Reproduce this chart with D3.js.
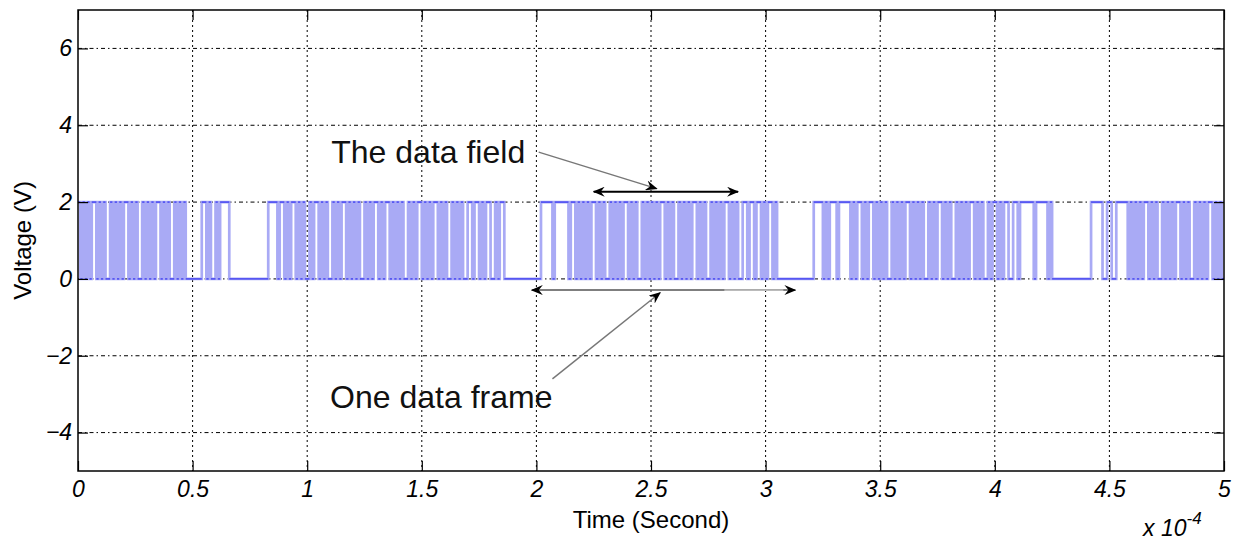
<!DOCTYPE html>
<html>
<head>
<meta charset="utf-8">
<script src="https://cdn.jsdelivr.net/npm/d3@7"></script>
<style>
  body { margin: 0; background: #fff; }
  text { font-family: Arial, "Liberation Sans", sans-serif; }
</style>
</head>
<body>
<div id="chart"></div>
<script>
// signal: one char per microsecond, one row per 0.5e-4 s grid column
const bitRows = [
    "10101011010100101010110101001010101101010010101000",
    "00001101001011110000000000000000011110110101101010",
    "01011010100101011010101001010110101101010100101011",
    "01010110101001010100110110101100101100000000000000",
    "00111110111111011010101011010100101010110101001010",
    "10101101010010101011010100101010110101001101101101",
    "01101000000000000000011110101110111110101101011010",
    "10100101010110101010010101101010010101011010100101",
    "10101100110111111011111010000000000000000011111001",
    "10011111010101011010100101010110101001010101101010"
];
const bitTime = 0.01;      // x 1e-4 s
const highLevel = 2;       // V
const lowLevel = 0;

const xTicks = [0, 0.5, 1, 1.5, 2, 2.5, 3, 3.5, 4, 4.5, 5];
const yTicks = [-4, -2, 0, 2, 4, 6];

// annotations in data units
const fieldArrow = { t0: 2.25, t1: 2.88, v: 2.27 };
const frameArrow = { t0: 1.98, t1: 3.13, v: -0.29 };
const fieldLabel = { text: "The data field", t: 1.105, v: 3.02, tipT: 2.525, tipV: 2.35, fromT: 2.01, fromV: 3.3 };
const frameLabel = { text: "One data frame", t: 1.10, v: -3.36, tipT: 2.54, tipV: -0.36, fromT: 2.07, fromV: -2.6 };

const W = 1245, H = 544;
const plot = { left: 78, right: 1224, top: 10, bottom: 471 };

const x = d3.scaleLinear().domain([0, 5]).range([plot.left, plot.right]);
const y = d3.scaleLinear().domain([-5, 7]).range([plot.bottom, plot.top]);

const svg = d3.select("#chart").append("svg")
    .attr("width", W).attr("height", H);

const defs = svg.append("defs");
defs.append("marker")
    .attr("id", "head")
    .attr("viewBox", "0 0 12 10")
    .attr("refX", 11).attr("refY", 5)
    .attr("markerWidth", 12).attr("markerHeight", 10)
    .attr("markerUnits", "userSpaceOnUse")
    .attr("orient", "auto-start-reverse")
    .append("path")
    .attr("d", "M0,0 L12,5 L0,10 L4,5 Z")
    .attr("fill", "#000");

// grid
svg.append("g").selectAll("line").data(xTicks.slice(1, -1)).join("line")
    .attr("x1", d => x(d)).attr("x2", d => x(d))
    .attr("y1", plot.top).attr("y2", plot.bottom)
    .attr("stroke", "#000").attr("stroke-width", 1)
    .attr("stroke-dasharray", "2,3");
svg.append("g").selectAll("line").data(yTicks).join("line")
    .attr("x1", plot.left).attr("x2", plot.right)
    .attr("y1", d => y(d)).attr("y2", d => y(d))
    .attr("stroke", "#000").attr("stroke-width", 1)
    .attr("stroke-dasharray", "4,3,1.5,3");

// signal
const bits = bitRows.join("").split("");
const points = bits.map((b, i) => [i * bitTime, b === "1" ? highLevel : lowLevel]);
points.push([5, points[points.length - 1][1]]);

// runs of equal level, for the darker level traces
const runs = [];
bits.forEach((b, i) => {
    const v = b === "1" ? highLevel : lowLevel;
    const last = runs[runs.length - 1];
    if (last && last.v === v) last.t1 = (i + 1) * bitTime;
    else runs.push({ v: v, t0: i * bitTime, t1: (i + 1) * bitTime });
});

const line = d3.line()
    .x(d => x(d[0]))
    .y(d => y(d[1]))
    .curve(d3.curveStepAfter);

// wide pale stroke gives the washed-out look of the dense bursts
svg.append("path")
    .datum(points)
    .attr("d", line)
    .attr("fill", "none")
    .attr("stroke", "#a9aaf5")
    .attr("stroke-width", 2.7);
svg.append("g").selectAll("line").data(runs).join("line")
    .attr("x1", d => x(d.t0)).attr("x2", d => x(d.t1))
    .attr("y1", d => y(d.v)).attr("y2", d => y(d.v))
    .attr("stroke", "#2626f0")
    .attr("stroke-width", 1.3)
    .attr("stroke-opacity", 0.85);

// axes box with inward ticks on all sides
const tickLen = 10;
const axisStyle = g => {
    g.select(".domain").remove();
    g.selectAll(".tick line").attr("stroke", "#000").attr("stroke-width", 1.2);
};
svg.append("g").attr("transform", `translate(0,${plot.bottom})`)
    .call(d3.axisBottom(x).tickValues(xTicks).tickSize(-tickLen).tickPadding(10)
        .tickFormat(d => d3.format("~g")(d)))
    .call(axisStyle)
    .selectAll("text")
    .attr("font-size", 23).attr("font-style", "italic").attr("fill", "#000")
    .attr("font-family", "Arial, 'Liberation Sans', sans-serif");
svg.append("g").attr("transform", `translate(0,${plot.top})`)
    .call(d3.axisTop(x).tickValues(xTicks).tickSize(-tickLen).tickFormat(""))
    .call(axisStyle);
svg.append("g").attr("transform", `translate(${plot.left},0)`)
    .call(d3.axisLeft(y).tickValues(yTicks).tickSize(-tickLen).tickPadding(6))
    .call(axisStyle)
    .selectAll("text")
    .attr("font-size", 23).attr("font-style", "italic").attr("fill", "#000")
    .attr("font-family", "Arial, 'Liberation Sans', sans-serif");
svg.append("g").attr("transform", `translate(${plot.right},0)`)
    .call(d3.axisRight(y).tickValues(yTicks).tickSize(-tickLen).tickFormat(""))
    .call(axisStyle);

svg.append("rect")
    .attr("x", plot.left).attr("y", plot.top)
    .attr("width", plot.right - plot.left).attr("height", plot.bottom - plot.top)
    .attr("fill", "none").attr("stroke", "#000").attr("stroke-width", 1.5);

// axis labels
svg.append("text")
    .attr("transform", `translate(31,${(plot.top + plot.bottom) / 2}) rotate(-90)`)
    .attr("text-anchor", "middle")
    .attr("font-size", 24)
    .text("Voltage (V)");
svg.append("text")
    .attr("x", x(2.5)).attr("y", 528)
    .attr("text-anchor", "middle")
    .attr("font-size", 24)
    .text("Time (Second)");
const mult = svg.append("text")
    .attr("x", 1143).attr("y", 536)
    .attr("font-size", 23).attr("font-style", "italic");
mult.append("tspan").text("x 10");
mult.append("tspan").attr("dy", -12).attr("font-size", 17).text("-4");

// annotations
const ann = svg.append("g");
[fieldLabel, frameLabel].forEach(a => {
    ann.append("line")
        .attr("x1", x(a.fromT)).attr("y1", y(a.fromV))
        .attr("x2", x(a.tipT)).attr("y2", y(a.tipV))
        .attr("stroke", "#777").attr("stroke-width", 1.5)
        .attr("marker-end", "url(#head)");
    ann.append("text")
        .attr("x", x(a.t)).attr("y", y(a.v))
        .attr("font-size", 32).attr("fill", "#111")
        .text(a.text);
});

ann.append("line")
    .attr("x1", x(fieldArrow.t0)).attr("x2", x(fieldArrow.t1))
    .attr("y1", y(fieldArrow.v)).attr("y2", y(fieldArrow.v))
    .attr("stroke", "#000").attr("stroke-width", 2)
    .attr("marker-start", "url(#head)").attr("marker-end", "url(#head)");

ann.append("line")
    .attr("x1", x(frameArrow.t0)).attr("x2", x(frameArrow.t1))
    .attr("y1", y(frameArrow.v)).attr("y2", y(frameArrow.v))
    .attr("stroke", "#555").attr("stroke-width", 1.5)
    .attr("marker-start", "url(#head)").attr("marker-end", "url(#head)");
ann.append("line")
    .attr("x1", x(2.82)).attr("x2", x(frameArrow.t1) - 12)
    .attr("y1", y(frameArrow.v)).attr("y2", y(frameArrow.v))
    .attr("stroke", "#bbb").attr("stroke-width", 1.8);
</script>
</body>
</html>
